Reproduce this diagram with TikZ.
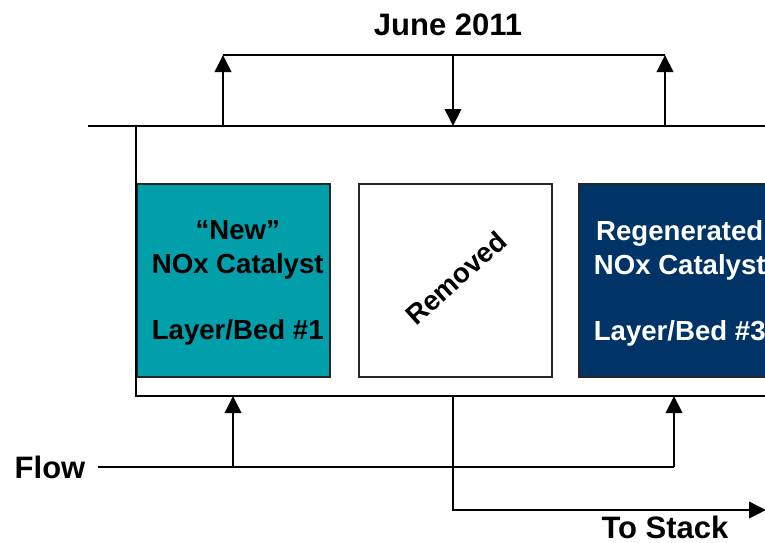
\documentclass[tikz,border=0pt]{standalone}
\usepackage{fontspec}
\setmainfont{Liberation Sans}
\usetikzlibrary{arrows.meta}
\definecolor{tealbox}{RGB}{0,159,170}
\definecolor{navybox}{RGB}{0,51,102}
\tikzset{
  x=1pt, y=-1pt,
  bed/.style={draw=black!85, line width=1.5pt, minimum width=193pt, minimum height=193pt, inner sep=0pt, anchor=north west},
  bedtext/.style={align=center, font=\bfseries\fontsize{27.6}{34}\selectfont},
  lbl/.style={font=\bfseries\fontsize{31}{36}\selectfont, inner sep=0pt},
  pipe/.style={line width=2.2pt, draw=black},
  thin/.style={line width=1.5pt, draw=black},
  flowarrow/.style={-{Triangle[width=16.5pt,length=17pt]}, line width=2pt},
}
\begin{document}
\begin{tikzpicture}
\useasboundingbox (0,0) rectangle (765,542);
% beds
\node[bed, fill=tealbox] (b1) at (136,183) {};
\node[bed, fill=white] (b2) at (358,183) {};
\node[bed, fill=navybox] (b3) at (578,183) {};
\node[bedtext, text=black] (t1) at ([xshift=4.5pt,yshift=-3pt]b1.center) {“New”\\NOx Catalyst\\[32pt]Layer/Bed \#1};
\node[bedtext, text=white] (t3) at ([xshift=4.5pt,yshift=-3pt]b3.center) {Regenerated\\NOx Catalyst\\[32pt]Layer/Bed \#3};
\node[bedtext, rotate=42] (t2) at (456,278) {Removed};
% outer duct
\coordinate (topL) at (88,126);
\coordinate (topR) at (780,126);
\coordinate (boxTL) at (136,126);
\coordinate (boxBL) at (136,396);
\coordinate (botR) at (780,396);
\draw[pipe] (topL) -- (topR);
\draw[thin] (boxTL) -- (boxBL) -- (botR);
% upper loop
\coordinate (u1b) at (223,126);
\coordinate (u1t) at (223,55);
\coordinate (u3b) at (665,126);
\coordinate (u3t) at (665,55);
\coordinate (dt) at (453,55);
\coordinate (db) at (453,126);
\draw[pipe] (u1t) -- (u3t);
\draw[flowarrow] (u1b) -- (u1t);
\draw[flowarrow] (u3b) -- (u3t);
\draw[flowarrow] (dt) -- (db);
\node[lbl] (june) at (448,25) {June 2011};
% flow in
\node[lbl] (flow) at (50,467) {Flow};
\coordinate (fs) at (98,467);
\coordinate (f1) at (233,467);
\coordinate (f3) at (674,467);
\coordinate (f1t) at (233,396);
\coordinate (f3t) at (674,396);
\draw[thin] (fs) -- (f3);
\draw[flowarrow] (f1) -- (f1t);
\draw[flowarrow] (f3) -- (f3t);
% to stack
\coordinate (s0) at (453,396);
\coordinate (s1) at (453,510);
\coordinate (s2) at (766,510);
\draw[flowarrow] (s0) -- (s1) -- (s2);
\node[lbl] (stack) at (665,527) {To Stack};
\end{tikzpicture}
\end{document}
